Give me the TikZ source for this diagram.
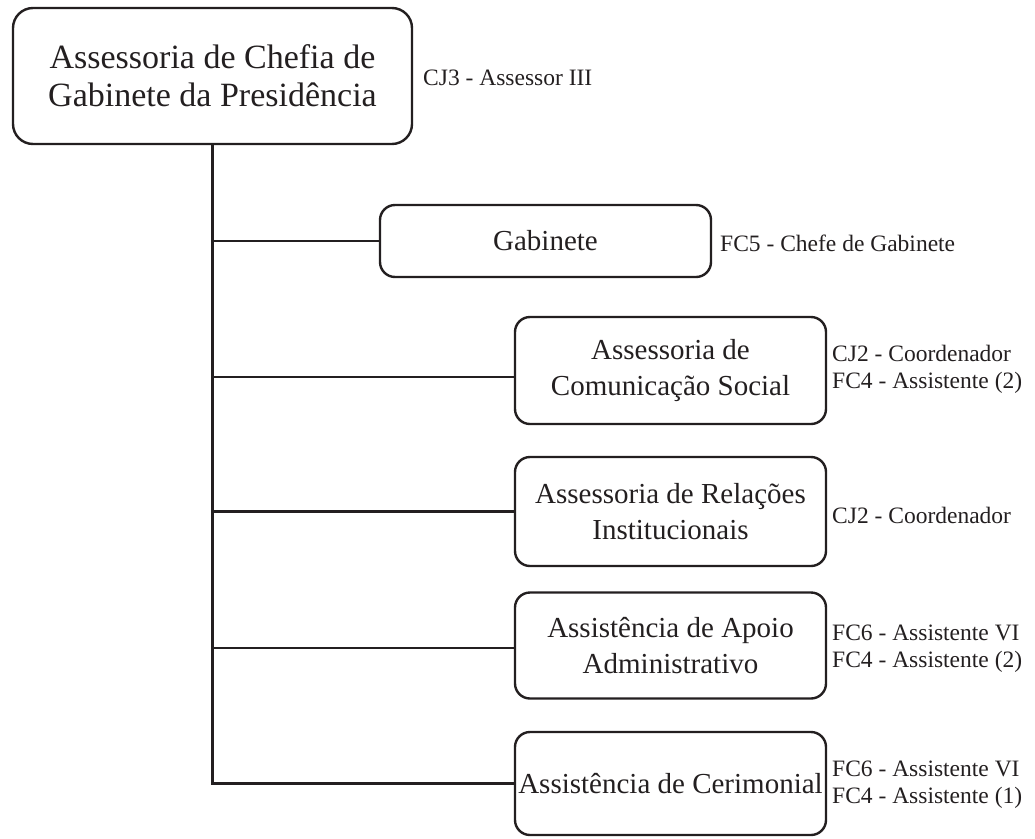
\documentclass[tikz,border=0pt]{standalone}
\usepackage{fontspec}
\setmainfont{Liberation Serif}
\definecolor{ink}{HTML}{231F20}
\begin{document}
\begin{tikzpicture}[x=1pt,y=-1pt,
 unit/.style={draw=ink, line width=2.4pt, rounded corners=15pt, align=center, text=ink, inner sep=0pt, font=\fontsize{29}{36}\selectfont},
 role/.style={anchor=west, align=left, text=ink, inner sep=0pt, font=\fontsize{23.5}{27}\selectfont},
 link/.style={draw=ink, line width=2.4pt}]
\useasboundingbox (0,0) rectangle (1035,838);
\node[unit, minimum width=399pt, minimum height=136pt, rounded corners=20pt, font=\fontsize{34}{38}\selectfont] (top) at (212.5,76) {Assessoria de Chefia de\\Gabinete da Presidência};
\node[unit, minimum width=331pt, minimum height=72pt] (gab) at (545.5,241) {Gabinete};
\node[unit, minimum width=311pt, minimum height=107pt] (com) at (670.5,370.5) {Assessoria de\\Comunicação Social};
\node[unit, minimum width=311pt, minimum height=109pt] (rel) at (670.5,511.5) {Assessoria de Relações\\Institucionais};
\node[unit, minimum width=311pt, minimum height=106pt] (apo) at (670.5,645.5) {Assistência de Apoio\\Administrativo};
\node[unit, minimum width=311pt, minimum height=103pt] (cer) at (670.5,783.5) {Assistência de Cerimonial};

\node[role] (rtop) at (423,78) {CJ3 - Assessor III};
\node[role] (rgab) at (720,243) {FC5 - Chefe de Gabinete};
\node[role] (rcom) at (832,369) {CJ2 - Coordenador\\FC4 - Assistente (2)};
\node[role] (rrel) at (832,515) {CJ2 - Coordenador};
\node[role] (rapo) at (832,649) {FC6 - Assistente VI\\FC4 - Assistente (2)};
\node[role] (rcer) at (832,785) {FC6 - Assistente VI\\FC4 - Assistente (1)};

\coordinate (pcom) at ([yshift=-6.5pt]com.west);
\coordinate (papo) at ([yshift=-2.5pt]apo.west);
\draw[link] (top.south) -- (top.south |- cer.west) -- (cer.west);
\draw[link] (top.south |- gab.west) -- (gab.west);
\draw[link] (top.south |- pcom) -- (pcom);
\draw[link] (top.south |- rel.west) -- (rel.west);
\draw[link] (top.south |- papo) -- (papo);
\end{tikzpicture}
\end{document}
